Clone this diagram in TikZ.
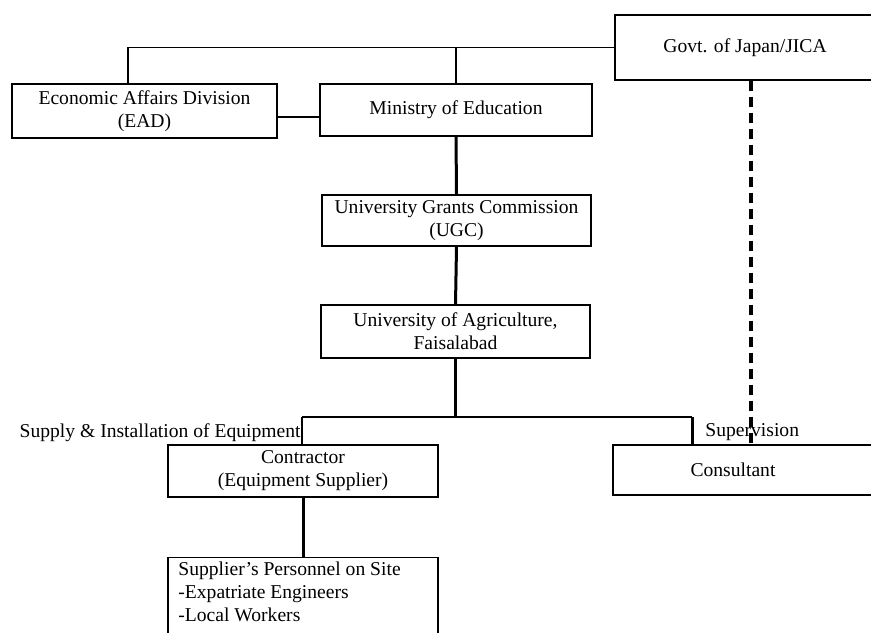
\documentclass[tikz,border=0pt]{standalone}
\usepackage{fontspec}
\setmainfont{Liberation Serif}
\usetikzlibrary{calc}
\begin{document}
\begin{tikzpicture}[x=0.5pt,y=-0.5pt,
  lbl/.style={inner sep=0pt, font=\fontsize{9.8}{11.5}\selectfont},
  box/.style={draw, line width=0.7pt, inner sep=0pt, align=center, font=\fontsize{9.8}{11.5}\selectfont},
  thinline/.style={line width=0.7pt},
  thickline/.style={line width=1.5pt},
  dashline/.style={line width=2pt, dash pattern=on 5pt off 3pt}]
\useasboundingbox (0,0) rectangle (871,632);
\clip (0,0) rectangle (871,632);
% boxes
\node[box, minimum width=130pt, minimum height=32.5pt] (govt) at (745,47.5) {Govt. of Japan/JICA};
\node[box, minimum width=132.5pt, minimum height=27pt] (ead) at (144.5,111) {Economic Affairs Division\\(EAD)};
\node[box, minimum width=136pt, minimum height=26pt] (min) at (456,110) {Ministry of Education};
\node[box, minimum width=134.5pt, minimum height=25.5pt] (ugc) at (456.5,220.5) {University Grants Commission\\(UGC)};
\node[box, minimum width=134.5pt, minimum height=26.5pt] (uoa) at (455.5,331.5) {University of Agriculture,\\Faisalabad};
\node[box, minimum width=135pt, minimum height=26pt] (con) at (303,471) {Contractor\\(Equipment Supplier)};
\node[box, minimum width=135pt, minimum height=45pt, anchor=north] (sup) at (303,557) {};
\node[lbl, anchor=north west, align=left] (suptxt) at (178,561) {Supplier's Personnel on Site\\-Expatriate Engineers\\-Local Workers};
\node[box, minimum width=133.5pt, minimum height=25pt] (cons) at (746.5,470) {};
\node[lbl] (constxt) at (733,470) {Consultant};
% labels
\node[lbl, anchor=base east] (supplytxt) at (301,437) {Supply \& Installation of Equipment};
\node[lbl, anchor=base west] (supervtxt) at (705,436) {Supervision};
% connectors
\coordinate (eadtap) at (128,84);
\draw[thinline] (govt.west) -| (eadtap);
\draw[thinline] (govt.west -| min.north) -- (min.north);
\draw[thinline] ($(ead.east)+(0,6)$) -- ($(min.west)+(0,7)$);
\draw[thickline] (min.south) -- (ugc.north);
\draw[thickline] (ugc.south) -- (uoa.north);
\coordinate (hub) at (455.5,417);
\coordinate (hl) at (302,417);
\coordinate (hr) at (692,417);
\draw[thickline] (uoa.south) -- (hub);
\draw[thinline] (hl) -- (hr);
\draw[line width=1pt] (hl) -- (hl |- con.north);
\draw[thickline] (hr) -- (hr |- cons.north);
\draw[thickline] (con.south) -- (sup.north);
\coordinate (dx) at (751,0);
\draw[dashline] (govt.south -| dx) -- (cons.north -| dx);
\end{tikzpicture}
\end{document}
